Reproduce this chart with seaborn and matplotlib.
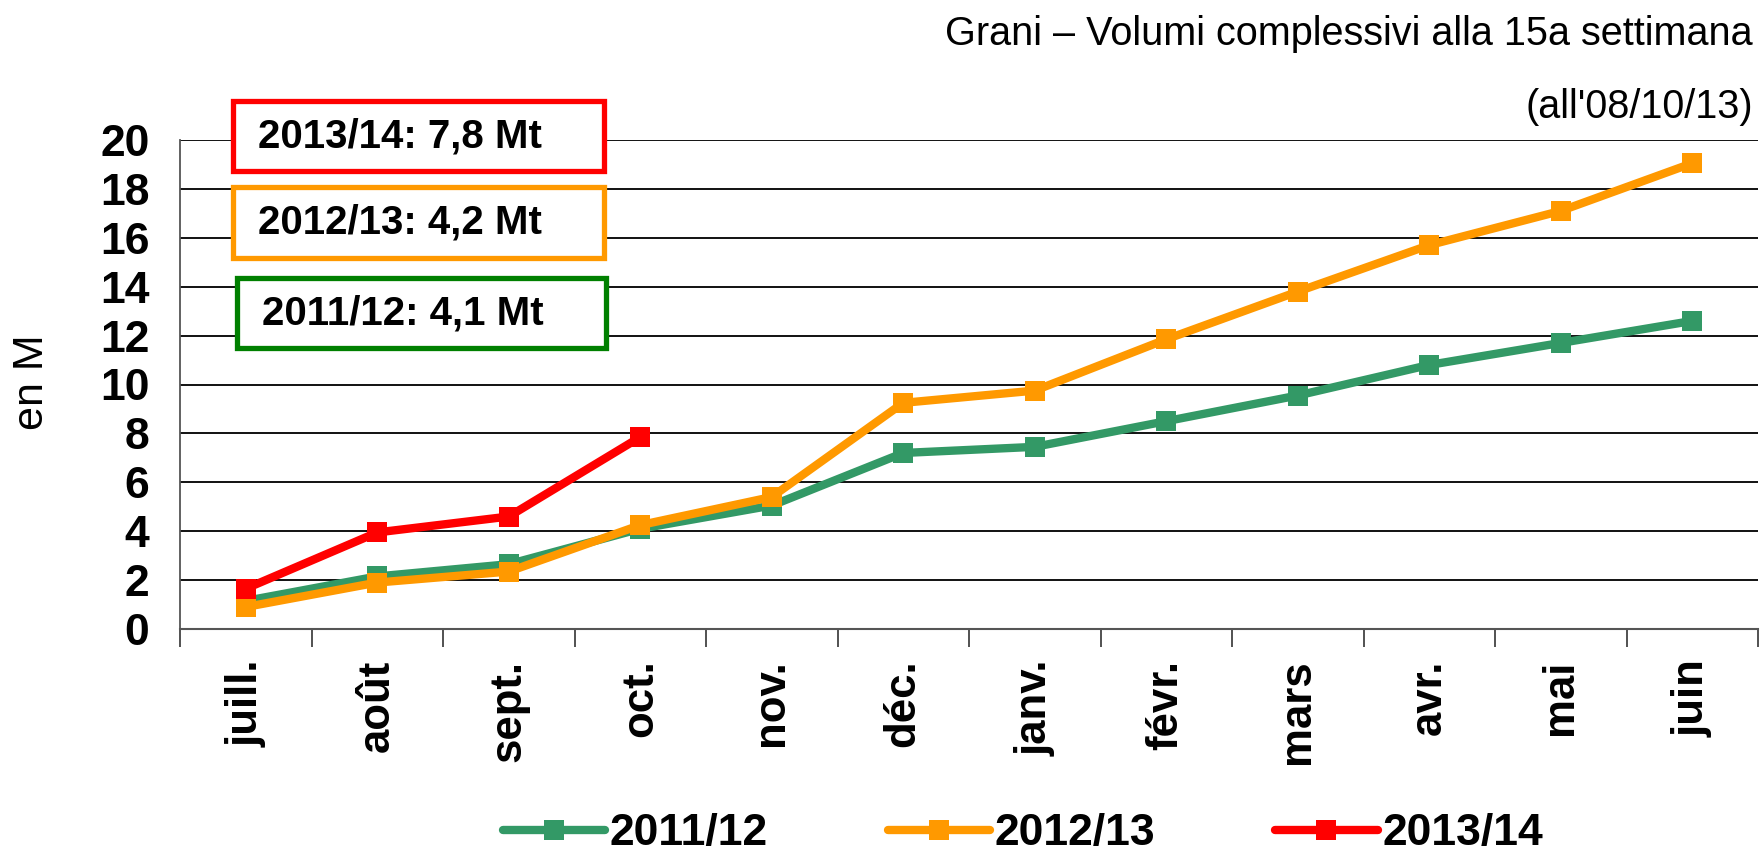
import matplotlib
matplotlib.use("Agg")
import matplotlib.pyplot as plt
import seaborn as sns
import pandas as pd
import numpy as np

months = ["juill.", "août", "sept.", "oct.", "nov.", "déc.", "janv.", "févr.",
          "mars", "avr.", "mai", "juin"]
s_2011 = [1.15, 2.15, 2.65, 4.1, 5.05, 7.2, 7.45, 8.5, 9.55, 10.8, 11.7, 12.6]
s_2012 = [0.9, 1.9, 2.35, 4.25, 5.4, 9.25, 9.75, 11.85, 13.8, 15.7, 17.1, 19.05]
s_2013 = [1.65, 3.95, 4.6, 7.85]
series_names = ["2011/12", "2012/13", "2013/14"]
colors = ["#339966", "#FF9900", "#FF0000"]
box_texts = ["2013/14: 7,8 Mt", "2012/13: 4,2 Mt", "2011/12: 4,1 Mt"]
box_colors = ["#FF0000", "#FF9900", "#008000"]
title_txt = "Grani – Volumi complessivi alla 15a settimana"
subtitle_txt = "(all'08/10/13)"
ylabel_txt = "en M"

sns.set_theme(style="white")
plt.rcParams["font.family"] = ["Liberation Sans", "DejaVu Sans"]
plt.rcParams["text.color"] = "black"
plt.rcParams["xtick.color"] = "black"
plt.rcParams["ytick.color"] = "black"

rows = []
for name, vals in zip(series_names, [s_2011, s_2012, s_2013]):
    for i, v in enumerate(vals):
        rows.append({"idx": i, "month": months[i], "value": v, "series": name})
df = pd.DataFrame(rows)

fig = plt.figure(figsize=(17.6, 8.57), dpi=100)
ax = fig.add_axes([180/1760, 1-629/857, (1758-180)/1760, (629-140)/857])

for y in range(2, 21, 2):
    ax.axhline(y, color="#111111", lw=1.4, zorder=1)

sns.lineplot(data=df, x="idx", y="value", hue="series", palette=colors,
             hue_order=series_names, marker="s", markersize=14.5,
             markeredgewidth=0, linewidth=6, ax=ax, legend=True, zorder=3,
             sort=False)

ax.set_xlim(-0.5, 11.5)
ax.set_ylim(0, 20)
ax.set_yticks(range(0, 21, 2))
ax.set_yticklabels([str(v) for v in range(0, 21, 2)], fontsize=32,
                   fontweight="bold", color="black")
ax.set_xticks(range(12))
ax.set_xticklabels(months, rotation=90, fontsize=31.5, fontweight="bold",
                   va="top", ha="center", color="black")
ax.set_xticks(np.arange(-0.5, 12, 1), minor=True)
ax.tick_params(axis="x", which="major", length=0, pad=22)
ax.tick_params(axis="x", which="minor", length=13, width=1.2, color="#333333",
               direction="out", bottom=True)
ax.tick_params(axis="y", length=0, pad=22)
ax.set_xlabel("")
ax.set_ylabel("")
for side in ["top", "right"]:
    ax.spines[side].set_visible(False)
ax.spines["left"].set_color("#555555")
ax.spines["left"].set_linewidth(1.3)
ax.spines["bottom"].set_color("#555555")
ax.spines["bottom"].set_linewidth(1.5)

fig.text(32/1760, 1-382/857, ylabel_txt, rotation=90, fontsize=31,
         ha="center", va="center", color="black")
fig.text(1753/1760, 1-34/857, title_txt, fontsize=28.5, ha="right",
         va="center", color="black")
fig.text(1753/1760, 1-107/857, subtitle_txt, fontsize=28.5, ha="right",
         va="center", color="black")

box_y = [(101, 171), (187, 258), (278, 348)]
box_x = [(233, 604), (233, 604), (237, 606)]
for txt, col, (y0, y1), (x0, x1) in zip(box_texts, box_colors, box_y, box_x):
    rect = plt.Rectangle((x0/1760, 1-y1/857), (x1-x0)/1760, (y1-y0)/857,
                         transform=fig.transFigure, facecolor="white",
                         edgecolor=col, lw=3.8, zorder=5)
    fig.add_artist(rect)
    fig.text((x0+25)/1760, 1-((y0+y1)/2)/857, txt, fontsize=29,
             fontweight="bold", ha="left", va="center", zorder=6,
             color="black")

handles, labels = ax.get_legend_handles_labels()
ax.get_legend().remove()
fig.legend(handles, labels, loc="center", bbox_to_anchor=(1023/1760, 1-834/857),
           ncol=3, frameon=False, prop={"size": 32, "weight": "bold"},
           handlelength=2.3, handletextpad=0.1, columnspacing=2.7,
           borderpad=0.2)

fig.savefig("out.png", dpi=100)
